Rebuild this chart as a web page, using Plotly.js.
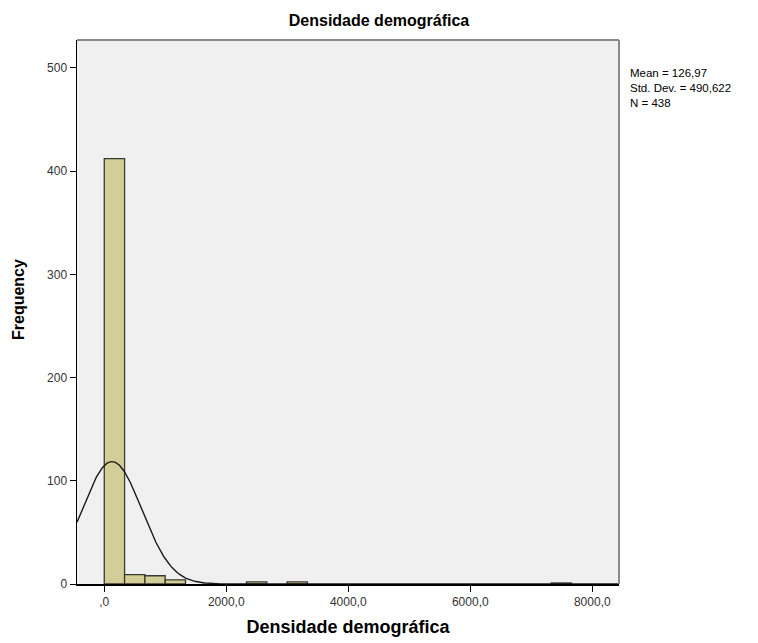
<!DOCTYPE html>
<html>
<head>
<meta charset="utf-8">
<script src="https://cdn.plot.ly/plotly-3.0.1.min.js"></script>
<style>html,body{margin:0;padding:0;background:#fff;}#chart{width:758px;height:643px;}</style>
</head>
<body>
<div id="chart"></div>
<script>
// Data
const binWidth = 333;
const binStarts = [0, 333, 666, 999, 2331, 2997, 7326];
const counts = [412, 9, 8, 4, 2, 2, 1];
const statMean = 126.97;
const statSD = 490.622;
const statN = 438;
const xTickVals = [0, 2000, 4000, 6000, 8000];
const xTickText = [',0', '2000,0', '4000,0', '6000,0', '8000,0'];
const yTickVals = [0, 100, 200, 300, 400, 500];
const statsLines = ['Mean = 126,97', 'Std. Dev. = 490,622', 'N = 438'];
const chartTitle = 'Densidade demográfica';
const xTitle = 'Densidade demográfica';
const yTitle = 'Frequency';

const xRange = [-447, 8438];
const yRange = [0, 527];

const barX = binStarts.map(s => s + binWidth / 2);

// Normal curve defined by the displayed statistics
const curveX = [], curveY = [];
for (let x = xRange[0]; x <= xRange[1]; x += 10) {
  const z = (x - statMean) / statSD;
  curveX.push(x);
  curveY.push(statN * binWidth * Math.exp(-0.5 * z * z) / (statSD * Math.sqrt(2 * Math.PI)));
}

const font = 'Liberation Sans, Arial, sans-serif';

const traces = [
  {
    type: 'bar', x: barX, y: counts, width: binWidth,
    marker: {color: '#d3ce97', line: {color: '#3a3a30', width: 1.3}},
    hoverinfo: 'skip'
  },
  {
    type: 'scatter', mode: 'lines', x: curveX, y: curveY,
    line: {color: '#1a1a1a', width: 1.4}, hoverinfo: 'skip'
  }
];

const H = 544; // plot height in px
const W = 542; // plot width in px

const layout = {
  width: 758, height: 643,
  margin: {l: 77, r: 139, t: 40, b: 59},
  paper_bgcolor: '#ffffff', plot_bgcolor: '#f0f0f0',
  showlegend: false,
  bargap: 0,
  title: {text: '<b>' + chartTitle + '</b>', font: {family: font, size: 16, color: '#000'},
          xref: 'container', x: 0.5, xanchor: 'center', y: 0.969, yanchor: 'middle'},
  xaxis: {
    range: xRange, tickvals: xTickVals, ticktext: xTickText,
    ticks: 'outside', ticklen: 6, tickcolor: '#000', tickwidth: 1,
    showline: true, linecolor: '#000', linewidth: 1.5,
    showgrid: false, zeroline: false,
    tickfont: {family: font, size: 12, color: '#333'},
    title: {text: '<b>' + xTitle + '</b>', font: {family: font, size: 18, color: '#000'}, standoff: 12}
  },
  yaxis: {
    range: yRange, tickvals: yTickVals,
    ticks: 'outside', ticklen: 6, tickcolor: '#000', tickwidth: 1,
    showline: true, linecolor: '#000', linewidth: 1.5,
    showgrid: false, zeroline: false,
    tickfont: {family: font, size: 12, color: '#333'}
  },
  shapes: [
    {type: 'line', xref: 'paper', yref: 'paper', x0: 0, x1: 1, y0: 1, y1: 1, line: {color: '#8a8a8a', width: 2}},
    {type: 'line', xref: 'paper', yref: 'paper', x0: 1, x1: 1, y0: 0, y1: 1, line: {color: '#8a8a8a', width: 2}}
  ],
  annotations: [
    {
      xref: 'paper', yref: 'paper', x: 1.016, y: 1 - 25 / H,
      xanchor: 'left', yanchor: 'top', align: 'left', showarrow: false,
      text: statsLines.join('<br>'), font: {family: font, size: 11.5, color: '#000'}
    },
    {
      xref: 'paper', yref: 'paper', x: (18 - 77) / W, y: (584 - 300) / H,
      xanchor: 'center', yanchor: 'middle', textangle: -90, showarrow: false,
      text: '<b>' + yTitle + '</b>', font: {family: font, size: 16, color: '#000'}
    }
  ]
};

Plotly.newPlot('chart', traces, layout, {displayModeBar: false, staticPlot: true});
</script>
</body>
</html>
